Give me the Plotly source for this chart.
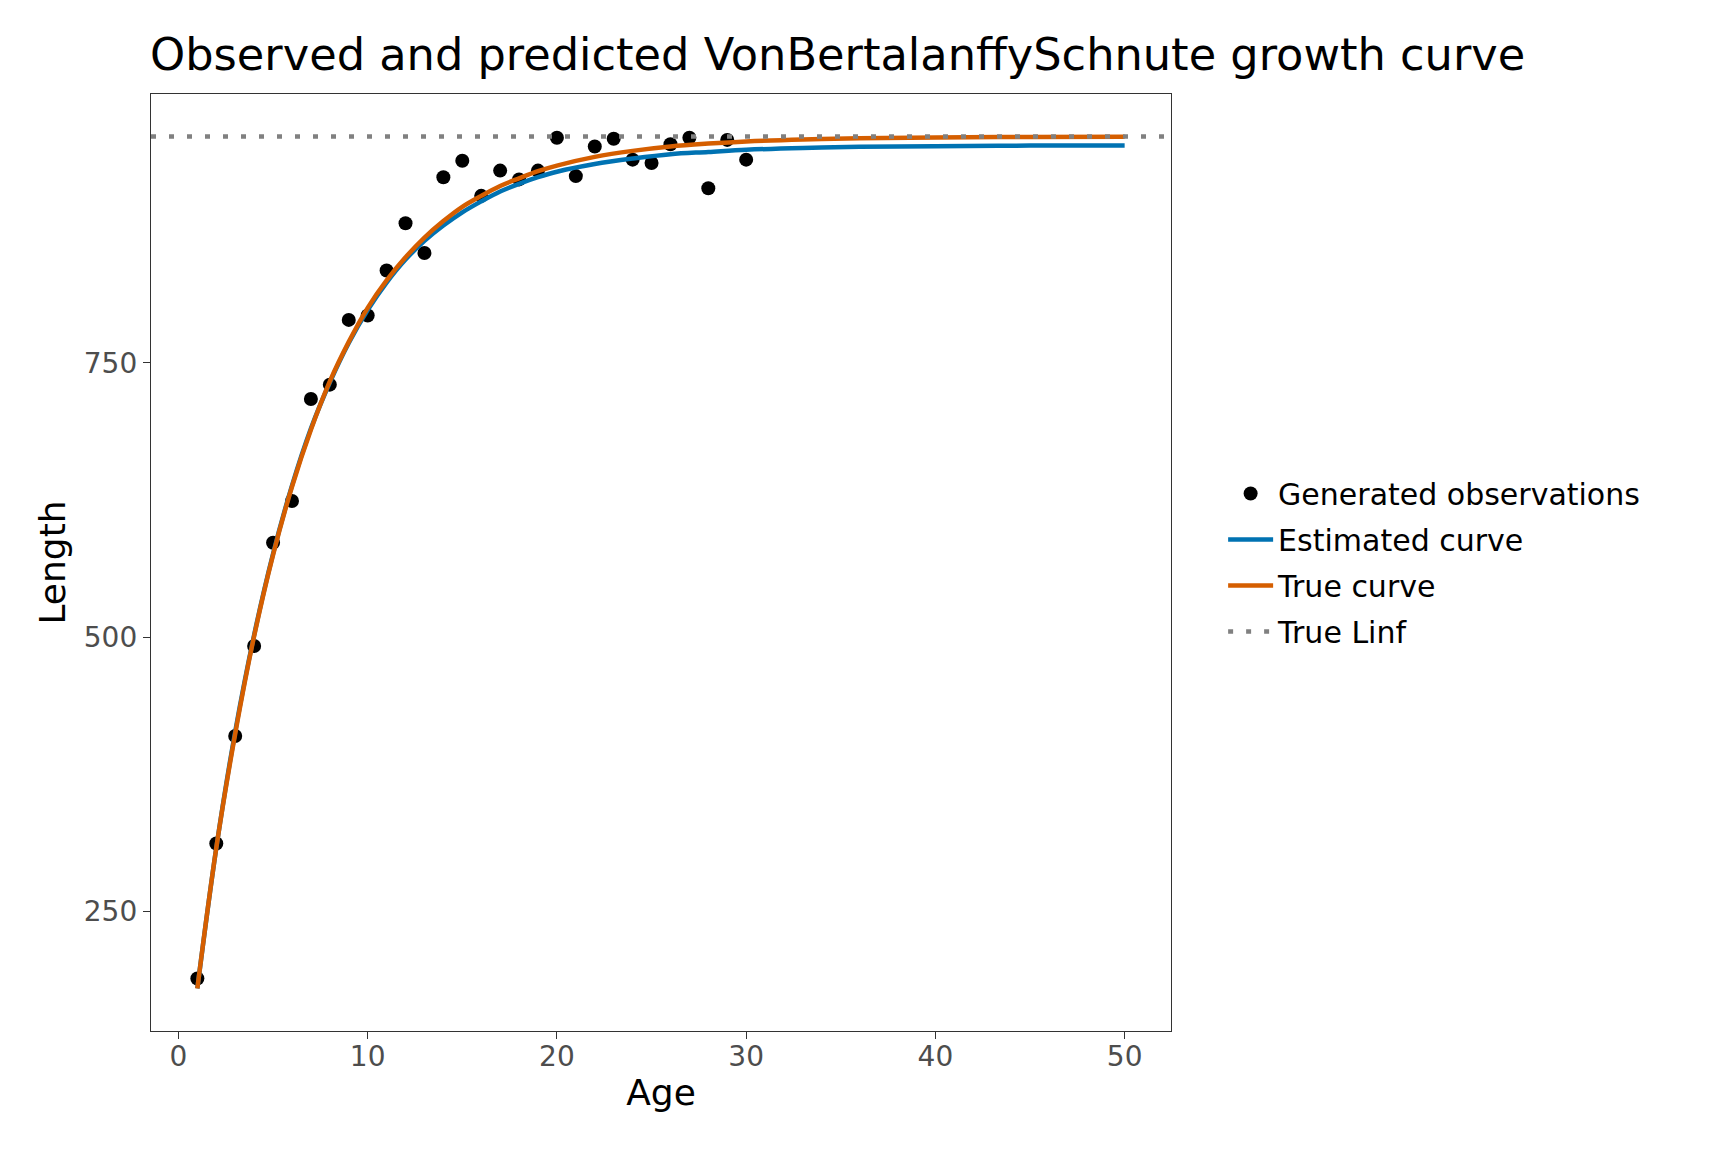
import plotly.graph_objects as go

# observed lengths by age
obs_age = list(range(1, 31))
obs_length = [189, 312, 410, 492, 586, 624, 717, 730, 789, 793,
              834, 877, 850, 919, 934, 902, 925, 917, 925, 955,
              920, 947, 954, 935, 932, 949, 955, 909, 953, 935]

# curves
curve_age = [1, 2, 3, 4, 5, 6, 7, 8, 9, 10, 11, 12, 13, 14, 15, 16, 17, 18, 19, 20,
             22, 24, 26, 28, 30, 33, 36, 40, 45, 50]
estimated_length = [180, 308, 414, 502, 576, 638, 690, 732, 768, 798,
                    823, 844, 861, 875, 887, 897, 906, 913, 919, 924,
                    931, 936, 940, 942, 944, 945.7, 946.7, 947.3, 947.8, 947.9]
true_length = [180, 308, 412, 501, 575, 637, 689, 733, 769, 800,
               825, 846, 864, 879, 892, 902, 911, 918, 924.5, 929.6,
               937.5, 943, 947, 949.6, 951.6, 953.4, 954.4, 955.2, 955.7, 955.9]
true_linf = 956

# ggplot-like 5% expansion
x_lo, x_hi = min(curve_age), max(curve_age)
x_pad = 0.05 * (x_hi - x_lo)
x_range = [x_lo - x_pad, x_hi + x_pad]
y_lo, y_hi = min(true_length), true_linf
y_pad = 0.05 * (y_hi - y_lo)
y_range = [y_lo - y_pad, y_hi + y_pad]

fig = go.Figure()
fig.add_trace(go.Scatter(x=obs_age, y=obs_length, mode='markers',
                         name='Generated observations',
                         marker=dict(color='black', size=14),
                         legendgroup='a'))
fig.add_trace(go.Scatter(x=curve_age, y=estimated_length, mode='lines',
                         name='Estimated curve', line_shape='spline',
                         line=dict(color='#0072B2', width=4.5),
                         legendgroup='b'))
fig.add_trace(go.Scatter(x=curve_age, y=true_length, mode='lines',
                         name='True curve', line_shape='spline',
                         line=dict(color='#D55E00', width=4.5),
                         legendgroup='c'))
fig.add_trace(go.Scatter(x=x_range, y=[true_linf, true_linf], mode='lines',
                         name='True Linf',
                         line=dict(color='#808080', width=4.5, dash='5px,13px'),
                         legendgroup='d'))

axis_common = dict(showgrid=False, zeroline=False, showline=True, mirror=True,
                   linecolor='#333333', linewidth=1.3,
                   ticks='outside', ticklen=7, tickwidth=1.3, tickcolor='#333333',
                   tickfont=dict(size=28, color='#4d4d4d'))

fig.update_layout(
    width=1728, height=1152,
    font=dict(family='DejaVu Sans', color='black'),
    plot_bgcolor='white', paper_bgcolor='white',
    margin=dict(l=143, r=565, t=86, b=129),
    title=dict(text='Observed and predicted VonBertalanffySchnute growth curve',
               x=142 / 1728, xanchor='left', y=1 - 46.5 / 1152, yanchor='middle',
               font=dict(size=44.7)),
    xaxis=dict(range=x_range, tickvals=[0, 10, 20, 30, 40, 50],
               ticklabelstandoff=-7,
               title=dict(text='Age', font=dict(size=36), standoff=8),
               **axis_common),
    yaxis=dict(range=y_range, tickvals=[250, 500, 750],
               title=dict(text='Length', font=dict(size=36), standoff=7),
               **axis_common),
    legend=dict(x=1.0511, y=0.5, xanchor='left', yanchor='middle',
                font=dict(size=30), tracegroupgap=4, traceorder='grouped',
                itemwidth=45, bgcolor='rgba(0,0,0,0)'),
)

fig.write_html("out.html")
